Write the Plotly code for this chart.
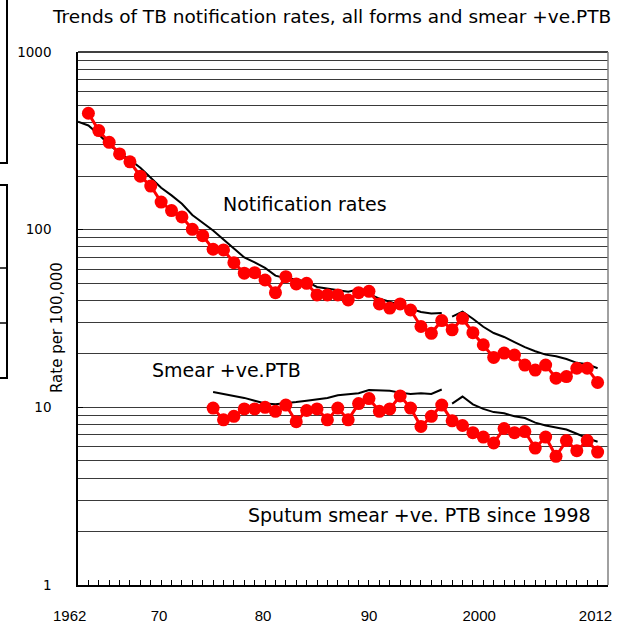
import plotly.graph_objects as go

years_all = list(range(1963, 2013))
notif_rate = [452, 361, 310, 267, 241, 200, 176, 143, 128, 118,
              100.5, 92.5, 77.6, 76.9, 65.2, 56.9, 57.3, 52.1, 44.2, 54.4,
              49.5, 49.9, 42.9, 42.9, 42.9, 40.2, 44.2, 45.0, 38.2, 36.2,
              38.2, 35.3, 28.5, 26.1, 30.8, 27.3, 31.7, 26.3, 22.5, 19.1,
              20.2, 19.7, 17.3, 16.2, 17.3, 14.6, 14.9, 16.6, 16.6, 13.8]

years_line = list(range(1962, 2013))
notif_trend = [405, 386, 343, 301, 270, 247, 223, 197, 172, 156,
               140, 121, 110, 98.9, 87.9, 78.1, 69.8, 65.5, 60.9, 55.1,
               53.3, 52.5, 51.0, 47.6, 46.6, 45.6, 44.7, 46.1, 43.6, 40.9,
               39.3, 37.7, 36.0, 34.4, 33.7, 34.0, 32.4, 34.6, 31.5, 28.4,
               26.2, 24.9, 23.3, 21.8, 20.7, 19.8, 19.4, 18.7, 17.8, 17.5, 16.6]

years_smear = list(range(1975, 2013))
smear_rate = [9.9, 8.5, 8.9, 9.8, 9.8, 10.0, 9.5, 10.3, 8.3, 9.6,
              9.8, 8.5, 9.9, 8.5, 10.5, 11.2, 9.5, 9.8, 11.6, 9.9,
              7.8, 8.9, 10.3, 8.4, 7.9, 7.2, 6.8, 6.3, 7.6, 7.2,
              7.3, 5.9, 6.8, 5.3, 6.5, 5.7, 6.5, 5.6]
smear_trend = [12.2, 11.9, 11.7, 11.3, 10.9, 10.5, 10.4, 10.6, 10.7, 10.9,
               11.1, 11.3, 11.7, 11.9, 12.0, 12.5, 12.4, 12.4, 12.1, 11.9,
               12.0, 11.9, 12.6, 10.5, 11.5, 10.4, 9.8, 9.4, 9.25, 8.9,
               8.7, 8.2, 7.9, 7.7, 7.5, 7.1, 6.7, 6.4]

break_year = 1998  # trend lines are interrupted between 1997 and 1998

x_tickvals = [1962, 1970, 1980, 1990, 2000, 2012]
x_ticktext = ["1962", "70", "80", "90", "2000", "2012"]
y_tickvals = [1, 10, 100, 1000]
y_ticktext = ["1", "10", "100", "1000"]
y_minor = [m * d for d in (1, 10, 100) for m in range(2, 10)]

NB = "\u00a0"
# small horizontal nudges of the year labels, as in the original
x_label_pad = [(0, 4), (0, 1), (0, 1), (0, 0), (3, 0), (0, 1)]
x_ticktext_padded = [NB * a + t + NB * b for t, (a, b) in zip(x_ticktext, x_label_pad)]


def split_at(xs, ys, brk):
    ox, oy = [], []
    for x, y in zip(xs, ys):
        if x == brk:
            ox.append(None)
            oy.append(None)
        ox.append(x)
        oy.append(y)
    return ox, oy


fig = go.Figure()

nx, ny = split_at(years_line, notif_trend, break_year)
fig.add_trace(go.Scatter(x=nx, y=ny, mode="lines",
                         line=dict(color="black", width=2), connectgaps=False))
sx, sy = split_at(years_smear, smear_trend, break_year)
fig.add_trace(go.Scatter(x=sx, y=sy, mode="lines",
                         line=dict(color="black", width=2), connectgaps=False))

fig.add_trace(go.Scatter(x=years_all, y=notif_rate, mode="lines+markers",
                         line=dict(color="#ff0000", width=3),
                         marker=dict(color="#ff0000", size=13)))
fig.add_trace(go.Scatter(x=years_smear, y=smear_rate, mode="lines+markers",
                         line=dict(color="#ff0000", width=3),
                         marker=dict(color="#ff0000", size=13)))

L, R, T, B = 78, 22, 52, 42
W, H = 630, 627
pw, ph = W - L - R, H - T - B


def px(x):
    return (x - L) / pw


def py(y):
    return (H - B - y) / ph


fig.update_layout(
    width=W, height=H,
    margin=dict(l=L, r=R, t=T, b=B, pad=0, autoexpand=False),
    paper_bgcolor="white", plot_bgcolor="white",
    showlegend=False,
    font=dict(family="DejaVu Sans", size=14, color="black"),
    xaxis=dict(range=[1962, 2013], tickmode="array", tickvals=x_tickvals,
               ticktext=x_ticktext_padded, ticks="inside", ticklen=5, tickcolor="black",
               showgrid=False, zeroline=False, showline=True, linecolor="black",
               linewidth=1.5, ticklabelstandoff=16, automargin=False,
               tickfont=dict(family="Liberation Sans", size=15),
               minor=dict(tickmode="linear", tick0=1962, dtick=1, ticks="inside",
                          ticklen=5, tickcolor="black", showgrid=False)),
    yaxis=dict(type="log", range=[0, 3], tickmode="array", tickvals=y_tickvals,
               ticktext=y_ticktext, ticks="inside", ticklen=5, tickcolor="black",
               showgrid=True, gridcolor="#3a3a3a", gridwidth=1, zeroline=False,
               showline=True, linecolor="black", linewidth=1.5,
               ticklabelstandoff=22, automargin=False,
               tickfont=dict(family="DejaVu Sans", size=13.5),
               minor=dict(tickmode="array", tickvals=y_minor, ticks="",
                          showgrid=True, gridcolor="#3a3a3a", gridwidth=1)),
)

# plot frame: black top, grey right
fig.add_shape(type="line", xref="paper", yref="paper", x0=0, x1=1, y0=1, y1=1,
              line=dict(color="black", width=1.5))
fig.add_shape(type="line", xref="paper", yref="paper", x0=1, x1=1, y0=0, y1=1,
              line=dict(color="#808080", width=1.5))

# cut-off boxes at the left edge of the image
for (x0, y0, x1, y1) in [(px(-5), py(-5), px(7), py(163)),
                         (px(-5), py(185), px(7), py(378))]:
    fig.add_shape(type="rect", xref="paper", yref="paper", x0=x0, x1=x1, y0=y0, y1=y1,
                  line=dict(color="black", width=2))
for yy in (268, 323):
    fig.add_shape(type="line", xref="paper", yref="paper", x0=px(0), x1=px(7),
                  y0=py(yy), y1=py(yy), line=dict(color="black", width=1.5))

fig.add_annotation(text="Trends of TB notification rates, all forms and smear +ve.PTB",
                   xref="paper", yref="paper", x=px(331), y=py(17), showarrow=False,
                   xanchor="center", yanchor="middle",
                   font=dict(family="DejaVu Sans", size=18.5))
fig.add_annotation(text="Rate per 100,000", xref="paper", yref="paper",
                   x=px(57), y=py(328), textangle=-90, showarrow=False,
                   xanchor="center", yanchor="middle",
                   font=dict(family="DejaVu Sans", size=15))
fig.add_annotation(text="Notification rates", x=1983.8, y=2.145, showarrow=False,
                   font=dict(family="DejaVu Sans", size=19))
fig.add_annotation(text="Smear +ve.PTB", x=1976.3, y=1.21, showarrow=False,
                   font=dict(family="DejaVu Sans", size=19))
fig.add_annotation(text="Sputum smear +ve. PTB since 1998", x=1994.9, y=0.394,
                   showarrow=False, font=dict(family="DejaVu Sans", size=19))

fig.write_html("out.html", config={"displayModeBar": False},
               post_script="document.body.style.margin='0';document.body.style.overflow='hidden';")
